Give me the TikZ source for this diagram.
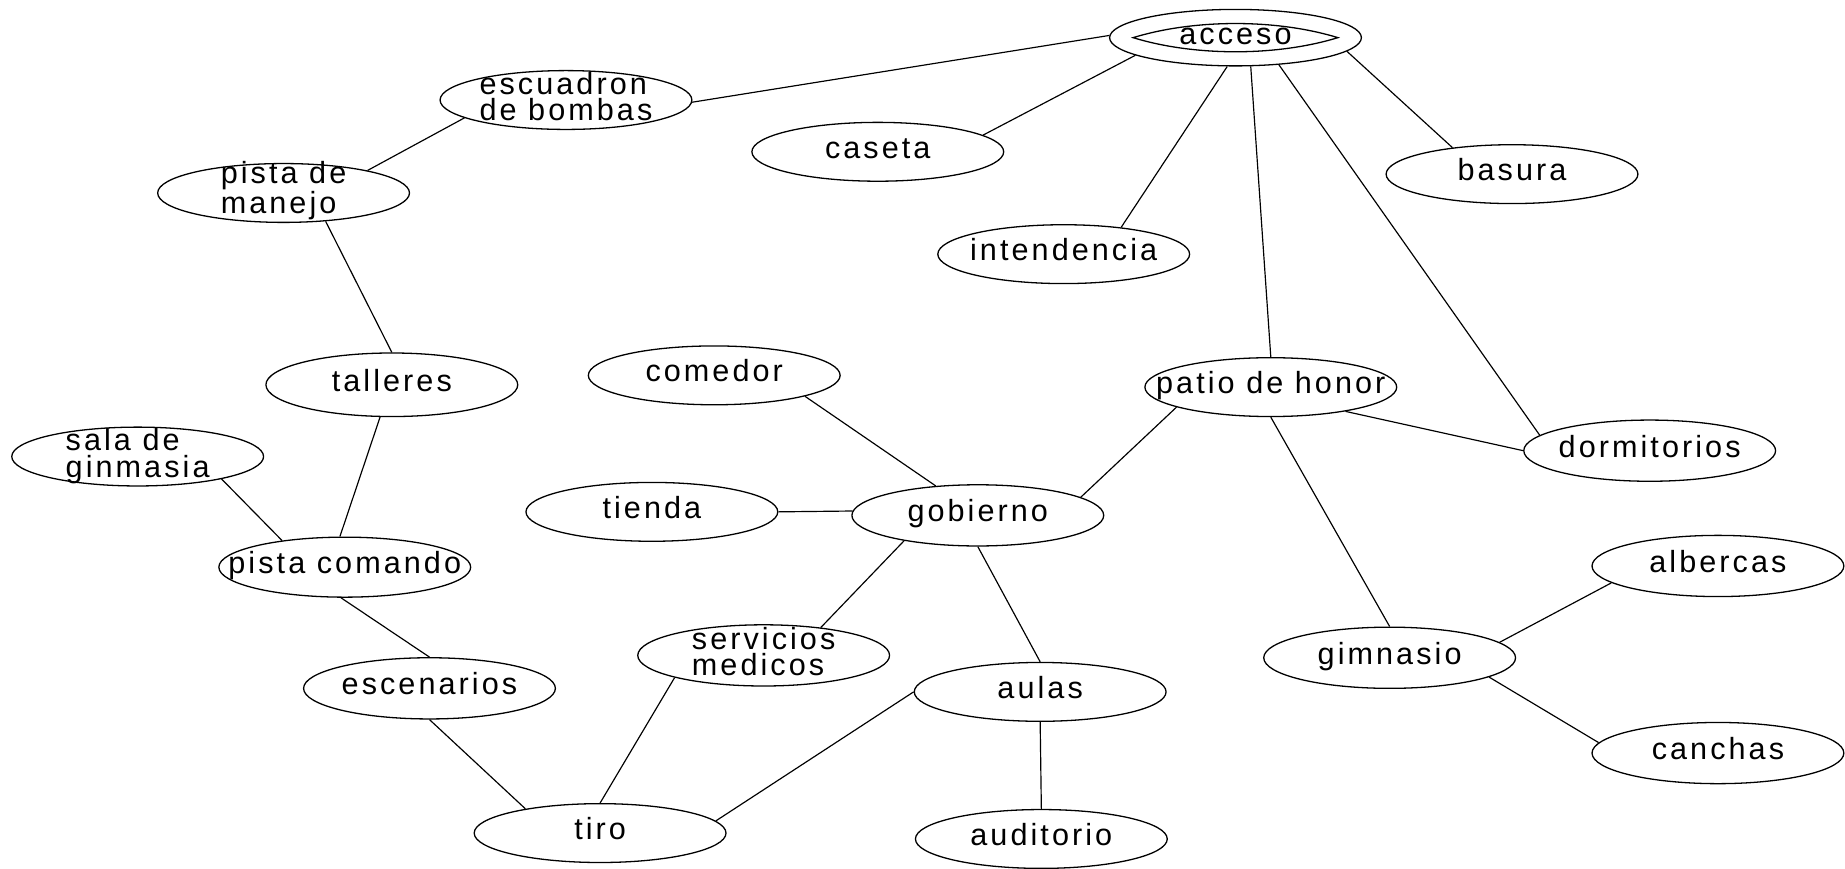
\documentclass[tikz,border=0pt]{standalone}
\usepackage{fontspec}
\setmainfont{Liberation Sans}[LetterSpace=10]
\usetikzlibrary{shapes.geometric}
\begin{document}
\begin{tikzpicture}[x=1pt,y=-1pt,
  place/.style={ellipse, draw, line width=1.1pt, minimum width=214pt,
                minimum height=50pt, inner sep=0pt},
  txt/.style={font=\fontsize{26}{22.5}\selectfont, align=left, inner sep=0pt,
              text height=18.6pt, text depth=7.6pt},
  txttwo/.style={txt, text height=42.6pt},
  link/.style={line width=1pt}]
\useasboundingbox (0,0) rectangle (1568,738);

% places
\node[place, minimum height=48pt, label={[txt]center:acceso}] (acc) at (1050,32) {};
\node[place, label={[txttwo]center:{escuadron\\de bombas}}] (esc) at (481,85) {};
\node[place, label={[txt]center:caseta}] (cas) at (746,129) {};
\node[place, label={[txt]center:basura}] (bas) at (1285,148) {};
\node[place, label={[txttwo]center:{pista de\\manejo}}] (pm) at (241,164) {};
\node[place, label={[txt]center:intendencia}] (int) at (904,216) {};
\node[place, minimum height=54pt, label={[txt]center:talleres}] (tal) at (333,327) {};
\node[place, label={[txt]center:comedor}] (com) at (607,319) {};
\node[place, label={[txt]center:patio de honor}] (pat) at (1080,329) {};
\node[place, label={[txttwo]center:{sala de\\ginmasia}}] (sala) at (117,388) {};
\node[place, minimum height=52pt, label={[txt]center:dormitorios}] (dor) at (1402,383) {};
\node[place, label={[txt]center:tienda}] (tie) at (554,435) {};
\node[place, minimum height=52pt, label={[txt]center:gobierno}] (gob) at (831,438) {};
\node[place, minimum height=51pt, label={[txt]center:pista comando}] (pc) at (293,482) {};
\node[place, minimum height=52pt, label={[txt]center:albercas}] (alb) at (1460,481) {};
\node[place, minimum height=52pt, label={[txttwo]center:{servicios\\medicos}}] (srv) at (649,557) {};
\node[place, minimum height=52pt, label={[txt]center:gimnasio}] (gim) at (1181,559) {};
\node[place, minimum height=52pt, label={[txt]center:escenarios}] (esce) at (365,585) {};
\node[place, label={[txt]center:aulas}] (aul) at (884,588) {};
\node[place, minimum height=52pt, label={[txt]center:canchas}] (can) at (1460,640) {};
\node[place, label={[txt]center:tiro}] (tiro) at (510,708) {};
\node[place, label={[txt]center:auditorio}] (aud) at (885,713) {};

% inner lens of the entrance
\draw[line width=1.1pt]
  ([xshift=-87pt]acc.center)
  .. controls ([xshift=-35pt,yshift=-16pt]acc.center) and ([xshift=35pt,yshift=-16pt]acc.center) ..
  ([xshift=87pt]acc.center)
  .. controls ([xshift=35pt,yshift=16pt]acc.center) and ([xshift=-35pt,yshift=16pt]acc.center) ..
  cycle;

% connections
\draw[link] (acc.179) -- (esc.-1);
\draw[link] (acc.190) -- (cas.9);
\draw[link] (acc.254) -- (int.25);
\draw[link] (acc.-62) -- (pat.90);
\draw[link] (acc.-32) -- (dor.172);
\draw[link] (acc.-7) -- (bas.156);
\draw[link] (esc.190) -- (pm.15);
\draw[link] (pm.-34) -- (tal.90);
\draw[link] (tal.-110) -- (pc.99);
\draw[link] (sala.-15) -- (pc.157);
\draw[link] (pc.263) -- (esce.90);
\draw[link] (esce.-90) -- (tiro.162);
\draw[link] (tiro.90) -- (srv.194);
\draw[link] (tiro.6) -- (aul.180);
\draw[link] (srv.26) -- (gob.199);
\draw[link] (gob.-90) -- (aul.90);
\draw[link] (aul.-90) -- (aud.90);
\draw[link] (gob.178) -- (tie.0);
\draw[link] (gob.145) -- (com.-13);
\draw[link] (gob.10) -- (pat.192);
\draw[link] (pat.-18) -- (dor.180);
\draw[link] (pat.-90) -- (gim.90);
\draw[link] (gim.8) -- (alb.189);
\draw[link] (gim.-11) -- (can.175);
\end{tikzpicture}
\end{document}
